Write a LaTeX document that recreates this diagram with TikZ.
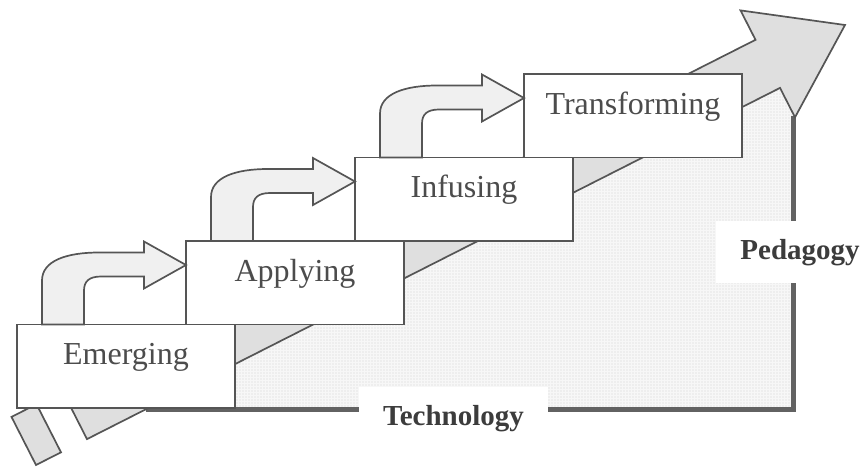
\documentclass[tikz,border=0pt]{standalone}
\usepackage{fontspec}
\setmainfont{Liberation Serif}
\usetikzlibrary{positioning,patterns.meta}

\definecolor{edgegray}{HTML}{555555}
\definecolor{axisgray}{HTML}{626262}
\definecolor{textgray}{HTML}{4C4C4C}
\definecolor{labelgray}{HTML}{3C3C3C}

\begin{document}
\begin{tikzpicture}[x=0.5pt, y=-0.5pt,
	stage/.style={draw=edgegray, line width=0.85pt, fill=white, outer sep=0pt, inner sep=0pt,
		minimum width=109pt, minimum height=41.75pt, text height=11pt, text depth=12.5pt,
		font=\fontsize{16}{19}\selectfont, text=textgray},
	bendarrow/.style={draw=edgegray, line width=0.85pt, fill=gray!12, line join=miter},
	axislabel/.style={fill=white, inner xsep=12pt, inner ysep=9pt,
		font=\fontsize{14.5}{17}\selectfont\bfseries, text=labelgray},
]
	\useasboundingbox (0,0) rectangle (865,466);
	% Draw the dotted area under the big arrow
	\fill[gray!6] (146,409) -- (780,87.9) -- (793,113.4) -- (793,409) -- cycle;
	\fill[pattern={Dots[distance=1.5pt,radius=0.3pt]}, pattern color=gray!35]
		(146,409) -- (780,87.9) -- (793,113.4) -- (793,409) -- cycle;
	% Draw the axes
	\draw[axisgray, line width=2.5pt] (146,409) -- (793,409) -- (793,116);
	% Draw the big arrow
	\draw[draw=edgegray, line width=0.85pt, fill=gray!25, line join=miter]
		(36,465) -- (61,452.3) -- (36.5,404.2) -- (11.5,416.9) -- cycle
		(87,439.1) -- (780,87.9) -- (795,117.3) -- (845,25) -- (740.5,10.4) -- (755.5,39.8) -- (62.5,391) -- cycle;
	% Add the axis labels
	\node[axislabel, anchor=base] (technology) at (453.5,425) {Technology};
	\node[axislabel, anchor=base] (pedagogy) at (800,259) {Pedagogy};
	% Draw the stages
	\node[stage] (emerging) at (126,366.25) {Emerging};
	\node[stage, above right=0pt and -24.5pt of emerging] (applying) {Applying};
	\node[stage, above right=0pt and -24.5pt of applying] (infusing) {Infusing};
	\node[stage, above right=0pt and -24.5pt of infusing] (transforming) {Transforming};
	% Draw the bent arrows between the stages
	\foreach \a/\b in {emerging/applying, applying/infusing, infusing/transforming} {
		\draw[bendarrow, shift={(\a.north west)}] (25,0) -- (25,-44)
			.. controls (25,-64) and (50,-72) .. (82,-72) -- (127,-72) -- (127,-83)
			-- ([yshift=-12pt]\b.north west) -- (127,-36) -- (127,-48) -- (84,-48)
			.. controls (72,-48) and (67,-43) .. (67,-34) -- (67,0) -- cycle;
	}
\end{tikzpicture}
\end{document}
